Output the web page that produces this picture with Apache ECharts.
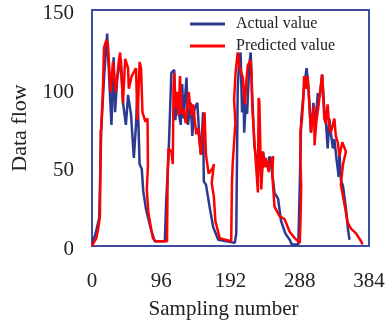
<!DOCTYPE html>
<html>
<head>
<meta charset="utf-8">
<script src="https://cdn.jsdelivr.net/npm/echarts@6/dist/echarts.min.js"></script>
<style>
html,body{margin:0;padding:0;background:#fff;}
#chart{width:391px;height:325px;}
</style>
</head>
<body>
<div id="chart"></div>
<script>
// Tick labels
var xTicks = [0, 96, 192, 288, 384];
var yTicks = [0, 50, 100, 150];
var seriesNames = ['Actual value', 'Predicted value'];

// Actual value: sampling number / data flow
var actualX = [0, 5, 10, 13, 17, 21, 24, 27, 30, 32, 35, 40, 43, 47, 50, 54, 58, 61, 63, 66, 69, 71, 75, 82, 87, 101, 103, 106, 110, 114, 115.5, 118, 123, 125, 127, 131, 133, 137, 139, 142, 146, 149, 151, 154, 155, 158, 163, 168, 175, 198, 200, 202, 204, 206, 208, 210, 211, 213, 215, 218, 220, 222, 225, 230, 232, 235, 237, 240, 244, 246, 248, 253, 258, 262, 268, 274, 277, 286, 288, 290, 294, 297.5, 300, 303.6, 307, 309.5, 313, 316, 319, 322, 324, 326.7, 329, 331, 334, 336, 339, 342, 343, 345, 348, 352, 355, 357];
var actualY = [1, 8, 18, 77, 109, 135, 105, 77, 120, 85, 107, 119, 91, 77, 96, 84, 56, 77, 99, 52, 49, 35, 23, 10, 3, 3, 30, 56, 110, 112, 80, 91, 77, 103, 81, 107, 77, 91, 70, 87, 91, 68, 58, 85, 41, 39, 25, 12, 4, 2, 8, 100, 118, 123, 85, 95, 72, 90, 84, 115, 123, 97, 64, 48, 58, 41, 60, 52, 50, 57, 53, 34, 30, 16, 8, 4, 1, 1, 38, 80, 101, 113, 101, 72, 91, 74, 97, 95, 109, 87, 81, 62, 81, 72, 62, 68, 55, 44, 61, 42, 38, 24, 10, 4];

// Predicted value: sampling number / data flow
var predX = [0, 6, 9, 11, 11.5, 12, 13, 15, 16.6, 20, 22, 24.5, 26, 29, 33, 37, 39, 43, 46, 50, 51, 55, 61, 63, 66, 68, 70, 74, 77, 77.5, 76, 78, 80, 84.5, 88, 104, 105, 106, 108, 110, 112, 113, 114, 116, 118, 120, 122, 124, 127, 130, 134, 137.6, 140, 144.6, 147, 151, 156, 158, 161.7, 167.7, 169, 166, 169, 171, 177, 193, 194, 195, 198.7, 197, 199, 202, 204, 209, 212, 214, 216, 220, 221, 222, 225.5, 230, 231, 232, 234.7, 237, 239, 241, 245, 247, 251, 250, 253, 260, 267, 274, 281, 288, 289, 290, 289, 289, 291, 293, 294, 296, 299, 301, 303.6, 305, 308, 308.5, 311, 314, 319, 320, 322, 324, 326.7, 329, 331, 336, 338, 340.6, 343, 347, 352, 348, 345, 349.8, 354.4, 359, 366, 373, 375];
var predY = [0, 5, 12, 19, 40, 73, 75, 98, 126, 131, 128, 108, 98, 117, 98, 117, 123, 91, 119, 113, 100, 108, 113, 80, 117, 113, 85, 79, 81, 51, 36, 22, 16, 5, 3, 3, 48, 62, 63, 60, 52, 100, 110, 88, 98, 83, 108, 84, 87, 78, 98, 83, 90, 71, 75, 58, 85, 58, 46, 50, 52, 40, 31, 16, 5, 3, 40, 52, 78, 93, 110, 123, 115, 107, 90, 105, 115, 118, 110, 90, 64, 34, 94, 92, 36, 60, 50, 56, 47, 54, 57, 45, 25, 19, 17, 9, 5, 2, 15, 38, 53, 73, 80, 94, 108, 100, 108, 93, 72, 79, 89, 64, 79, 89, 109, 101, 81, 78, 90, 75, 72, 81, 70, 66, 57, 66, 60, 52, 39, 27, 15, 11, 8, 3, 1];

function pairs(xs, ys) {
  var out = [];
  for (var i = 0; i < xs.length; i++) out.push([xs[i], ys[i]]);
  return out;
}

var FONT = '"Liberation Serif", "Times New Roman", serif';
var chart = echarts.init(document.getElementById('chart'), null, {renderer: 'canvas'});
chart.setOption({
  animation: false,
  backgroundColor: '#ffffff',
  textStyle: {fontFamily: FONT},
  grid: {
    left: 92, right: 22, top: 10, bottom: 79,
    show: true, borderColor: '#3E4C9F', borderWidth: 2, backgroundColor: 'transparent'
  },
  legend: {
    orient: 'vertical',
    left: 185, top: 11,
    itemWidth: 35, itemHeight: 3, itemGap: 6,
    icon: 'rect',
    data: seriesNames,
    textStyle: {fontFamily: FONT, fontSize: 16, color: '#222', padding: [0, 0, 0, 6]}
  },
  xAxis: {
    type: 'value', min: xTicks[0], max: xTicks[xTicks.length - 1], interval: 96,
    name: 'Sampling number', nameLocation: 'middle', nameGap: 53,
    nameTextStyle: {fontFamily: FONT, fontSize: 21, color: '#222', padding: [0, 14, 0, 0]},
    axisLine: {show: false}, axisTick: {show: false}, splitLine: {show: false},
    axisLabel: {fontFamily: FONT, fontSize: 21, color: '#222', margin: 25}
  },
  yAxis: {
    type: 'value', min: yTicks[0], max: yTicks[yTicks.length - 1], interval: 50,
    name: 'Data flow', nameLocation: 'middle', nameGap: 58,
    nameTextStyle: {fontFamily: FONT, fontSize: 22, color: '#222'},
    axisLine: {show: false}, axisTick: {show: false}, splitLine: {show: false},
    axisLabel: {
      margin: 18,
      formatter: function (v) { return '{t|' + v + '}'; },
      rich: {t: {fontFamily: FONT, fontSize: 21, color: '#222', padding: [7, 0, 0, 0]}}
    }
  },
  series: [
    {
      name: seriesNames[0], type: 'line', data: pairs(actualX, actualY),
      symbol: 'none', color: '#2B3990',
      lineStyle: {width: 2.5, color: '#2B3990'}
    },
    {
      name: seriesNames[1], type: 'line', data: pairs(predX, predY),
      symbol: 'none', color: '#FF0000',
      lineStyle: {width: 2.5, color: '#FF0000'}
    }
  ]
});
</script>
</body>
</html>
